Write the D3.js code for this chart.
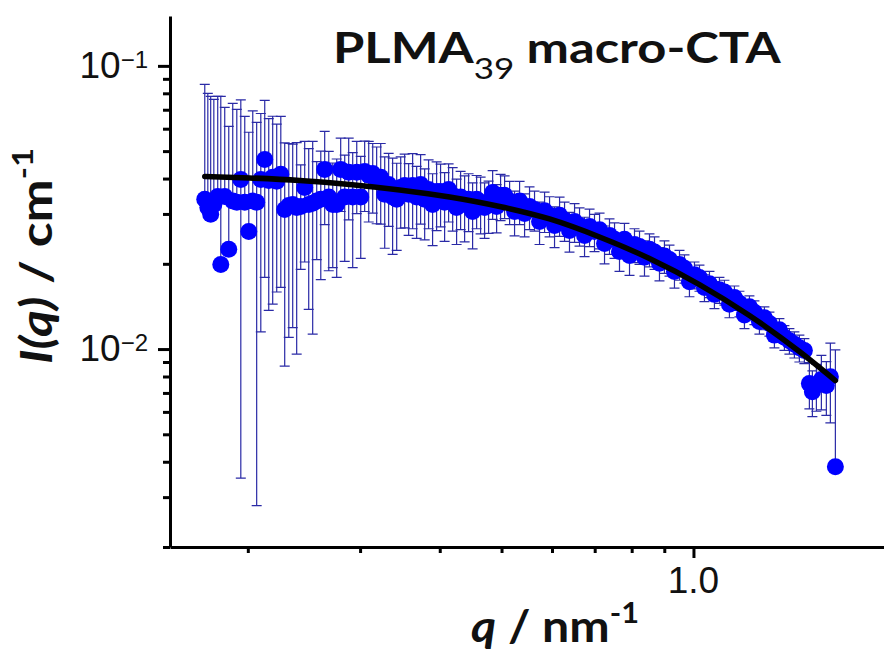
<!DOCTYPE html>
<html>
<head>
<meta charset="utf-8">
<script src="https://cdn.jsdelivr.net/npm/d3@7"></script>
<style>
  body { margin: 0; background: #fff; }
  svg { display: block; }
  .axis .domain, .axis line { stroke: #000; stroke-width: 3; }
</style>
</head>
<body>
<div id="wrapper"></div>
<script>
// SAXS data, PLMA39 macro-CTA (q in nm^-1, I in cm^-1)
const qValues = [
  0.1712, 0.1731, 0.1749, 0.1769, 0.1794, 0.1814, 0.1840, 0.1867, 0.1894, 0.1922,
  0.1950, 0.1978, 0.2007, 0.2036, 0.2065, 0.2096, 0.2126, 0.2157, 0.2188, 0.2220,
  0.2253, 0.2285, 0.2319, 0.2352, 0.2386, 0.2421, 0.2456, 0.2492, 0.2528, 0.2565,
  0.2603, 0.2640, 0.2679, 0.2718, 0.2757, 0.2797, 0.2838, 0.2879, 0.2921, 0.2964,
  0.3007, 0.3050, 0.3095, 0.3140, 0.3185, 0.3232, 0.3279, 0.3326, 0.3374, 0.3424,
  0.3474, 0.3524, 0.3575, 0.3627, 0.3680, 0.3733, 0.3788, 0.3842, 0.3898, 0.3955,
  0.4012, 0.4071, 0.4130, 0.4191, 0.4251, 0.4313, 0.4376, 0.4439, 0.4504, 0.4570,
  0.4636, 0.4703, 0.4772, 0.4842, 0.4912, 0.4983, 0.5056, 0.5148, 0.5241, 0.5337,
  0.5434, 0.5532, 0.5633, 0.5736, 0.5841, 0.5947, 0.6055, 0.6166, 0.6278, 0.6391,
  0.6509, 0.6627, 0.6748, 0.6871, 0.6995, 0.7124, 0.7253, 0.7384, 0.7520, 0.7656,
  0.7794, 0.7938, 0.8082, 0.8230, 0.8379, 0.8531, 0.8688, 0.8845, 0.9005, 0.9171,
  0.9337, 0.9508, 0.9681, 0.9856, 1.0036, 1.0219, 1.0405, 1.0595, 1.0787, 1.0983,
  1.1183, 1.1387, 1.1594, 1.1806, 1.2022, 1.2240, 1.2463, 1.2690, 1.2921, 1.3157,
  1.3396, 1.3640, 1.3888, 1.4141, 1.4398, 1.4660, 1.4927, 1.5199, 1.5364, 1.5588,
  1.5872, 1.6160, 1.6396, 1.6695
];

const intensity = [
  0.0338, 0.0316, 0.0299, 0.0324, 0.0346, 0.0199, 0.0346, 0.0225, 0.0333, 0.0330,
  0.0397, 0.0330, 0.0260, 0.0333, 0.0330, 0.0397, 0.0467, 0.0394, 0.0404, 0.0391,
  0.0414, 0.0311, 0.0321, 0.0324, 0.0316, 0.0319, 0.0372, 0.0324, 0.0327, 0.0333,
  0.0338, 0.0431, 0.0344, 0.0324, 0.0324, 0.0431, 0.0344, 0.0421, 0.0344, 0.0421,
  0.0344, 0.0424, 0.0411, 0.0417, 0.0397, 0.0404, 0.0352, 0.0381, 0.0344, 0.0338,
  0.0372, 0.0378, 0.0352, 0.0378, 0.0344, 0.0381, 0.0338, 0.0366, 0.0324, 0.0360,
  0.0360, 0.0330, 0.0366, 0.0349, 0.0316, 0.0344, 0.0324, 0.0338, 0.0306, 0.0338,
  0.0330, 0.0316, 0.0324, 0.0357, 0.0319, 0.0349, 0.0349, 0.0333, 0.0306, 0.0333,
  0.0301, 0.0319, 0.0311, 0.0282, 0.0308, 0.0297, 0.0273, 0.0297, 0.0285, 0.0262,
  0.0282, 0.0273, 0.0252, 0.0271, 0.0260, 0.0264, 0.0236, 0.0252, 0.0244, 0.0221,
  0.0244, 0.0214, 0.0234, 0.0230, 0.0211, 0.0225, 0.0220, 0.0201, 0.0213, 0.0207,
  0.0188, 0.0199, 0.0193, 0.0173, 0.0183, 0.0179, 0.0165, 0.0170, 0.0156, 0.0162,
  0.0159, 0.0144, 0.0152, 0.0145, 0.0132, 0.0141, 0.0135, 0.0125, 0.0129, 0.0123,
  0.0112, 0.0117, 0.0110, 0.0107, 0.0104, 0.0101, 0.00988, 0.00755, 0.00707, 0.00743,
  0.00780, 0.00743, 0.00799, 0.00384
];

const errors = [
  0.0522, 0.0483, 0.0481, 0.0437, 0.0434, 0.0581, 0.0367, 0.0386, 0.0404, 0.0372,
  0.0362, 0.0333, 0.0323, 0.0360, 0.0302, 0.0282, 0.0288, 0.0257, 0.0260, 0.0232,
  0.0249, 0.0224, 0.0211, 0.0205, 0.0220, 0.0128, 0.0169, 0.0186, 0.0214, 0.0126,
  0.0162, 0.0156, 0.0155, 0.0130, 0.0145, 0.0125, 0.0140, 0.0135, 0.0150, 0.0120,
  0.0135, 0.0118, 0.0130, 0.0115, 0.0120, 0.0128, 0.0125, 0.0110, 0.0128, 0.0115,
  0.0105, 0.0110, 0.0100, 0.0112, 0.0098, 0.0105, 0.0095, 0.0100, 0.0092, 0.0098,
  0.0090, 0.0090, 0.0085, 0.0088, 0.0082, 0.0080, 0.0085, 0.0078, 0.0080, 0.0072,
  0.0075, 0.0070, 0.0068, 0.0070, 0.0062, 0.0065, 0.0060, 0.0058, 0.0055, 0.0058,
  0.0052, 0.0055, 0.0050, 0.0048, 0.0050, 0.0048, 0.0045, 0.0047, 0.0045, 0.0042,
  0.0044, 0.0042, 0.0040, 0.0041, 0.0039, 0.0038, 0.0036, 0.0036, 0.0035, 0.0033,
  0.0034, 0.0032, 0.0032, 0.0031, 0.0030, 0.0030, 0.0029, 0.0027, 0.0028, 0.0026,
  0.0024, 0.0024, 0.0022, 0.0020, 0.0020, 0.0019, 0.0018, 0.0018, 0.0017, 0.0017,
  0.0016, 0.0015, 0.0015, 0.0015, 0.0014, 0.0013, 0.0013, 0.0012, 0.0012, 0.0012,
  0.0011, 0.0011, 0.0011, 0.0011, 0.0011, 0.0011, 0.0010, 0.0014, 0.0013, 0.0014,
  0.0017, 0.0016, 0.0025, 0.0061
];

// model fit
const fitQ = [0.1712, 0.2014, 0.2412, 0.2889, 0.3461, 0.4146, 0.4966, 0.5946,
              0.7124, 0.8531, 1.0219, 1.2240, 1.4660, 1.6695];
const fitI = [0.04070, 0.04020, 0.03939, 0.03813, 0.03646, 0.03445, 0.03188, 0.02880,
              0.02488, 0.02089, 0.01690, 0.01314, 0.00980, 0.00774];

const yTickValues = [0.1, 0.01];
const yTickExponents = ["\u22121", "\u22122"];
const xTickValues = [1.0];
const xTickLabels = ["1.0"];

const data = qValues.map((q, i) => ({ q, I: intensity[i], err: errors[i] }));
const fit = fitQ.map((q, i) => ({ q, I: fitI[i] }));

const width = 884, height = 652;

const svg = d3.select("#wrapper")
  .append("svg")
  .attr("width", width)
  .attr("height", height);

const x = d3.scaleLog().domain([0.151, 1.99]).range([170, 884]);
const y = d3.scaleLog().domain([0.002, 0.15]).range([547, 16]);

const isMajor = (t, majors) => majors.some(m => Math.abs(t / m - 1) < 1e-6);
const xMinor = x.ticks().filter(t => !isMajor(t, xTickValues));
const yMinor = y.ticks().filter(t => !isMajor(t, yTickValues));

svg.append("defs").append("clipPath").attr("id", "plot")
  .append("rect").attr("x", 170).attr("y", 16).attr("width", 714).attr("height", 531);

// error bars
const bars = svg.append("g")
  .attr("clip-path", "url(#plot)")
  .attr("stroke", "#2a2aa6")
  .attr("stroke-width", 1.2)
  .attr("fill", "none");

bars.selectAll("path")
  .data(data)
  .join("path")
  .attr("d", d => {
    const cx = x(d.q), cy = y(d.I), top = y(d.I + d.err);
    let p = `M${cx},${cy}V${top}M${cx - 5},${top}H${cx + 5}`;
    if (d.I - d.err > 0) {
      const bot = y(d.I - d.err);
      p += `M${cx},${cy}V${bot}M${cx - 5},${bot}H${cx + 5}`;
    }
    return p;
  });

// points
svg.append("g")
  .selectAll("circle")
  .data(data)
  .join("circle")
  .attr("cx", d => x(d.q))
  .attr("cy", d => y(d.I))
  .attr("r", 8.5)
  .attr("fill", "#0000ff");

// fit line
const line = d3.line()
  .x(d => x(d.q))
  .y(d => y(d.I))
  .curve(d3.curveMonotoneX);

svg.append("path")
  .datum(fit)
  .attr("d", line)
  .attr("fill", "none")
  .attr("stroke", "#000")
  .attr("stroke-width", 5.5)
  .attr("stroke-linecap", "round");

// axes
svg.append("g")
  .attr("class", "axis")
  .attr("transform", "translate(0,547)")
  .call(d3.axisBottom(x).tickValues(xMinor).tickSize(6).tickSizeOuter(0).tickFormat(""))
  .call(g => g.selectAll("line").attr("stroke-width", 2.5));

svg.append("g")
  .attr("class", "axis")
  .attr("transform", "translate(0,547)")
  .call(d3.axisBottom(x).tickValues(xTickValues).tickSize(11).tickSizeOuter(0).tickFormat(""))
  .call(g => g.select(".domain").remove());

svg.append("g")
  .attr("class", "axis")
  .attr("transform", "translate(170,0)")
  .call(d3.axisLeft(y).tickValues(yMinor).tickSize(7).tickSizeOuter(0).tickFormat(""));

svg.append("g")
  .attr("class", "axis")
  .attr("transform", "translate(170,0)")
  .call(d3.axisLeft(y).tickValues(yTickValues).tickSize(12).tickSizeOuter(0).tickFormat(""))
  .call(g => g.select(".domain").remove());

// tick labels
const yLabels = svg.append("g")
  .selectAll("text")
  .data(yTickValues)
  .join("text")
  .attr("x", 148)
  .attr("y", d => y(d) + 12)
  .attr("text-anchor", "end")
  .style("font-family", "'Liberation Sans', Arial, sans-serif")
  .style("font-size", "37px")
  .attr("fill", "#111");
yLabels.append("tspan").text("10");
yLabels.append("tspan")
  .attr("dy", -10)
  .style("font-size", "24px")
  .text((d, i) => yTickExponents[i]);

svg.append("g")
  .selectAll("text")
  .data(xTickValues)
  .join("text")
  .attr("x", d => x(d))
  .attr("y", 593)
  .attr("text-anchor", "middle")
  .style("font-family", "'Liberation Sans', Arial, sans-serif")
  .style("font-size", "37px")
  .attr("fill", "#111")
  .text((d, i) => xTickLabels[i]);

// stretch a text horizontally (in its own frame) to a target width
function fitWidth(sel, target, cx, base) {
  const w = sel.node().getBBox().width;
  const s = target / w;
  sel.attr("transform", `${base || ""} translate(${cx},0) scale(${s},1) translate(${-cx},0)`);
}

// title
const title = svg.append("text")
  .attr("x", 333)
  .attr("y", 63)
  .style("font-family", "Lato, 'Open Sans', sans-serif")
  .style("font-weight", "bold")
  .style("font-size", "42px")
  .attr("fill", "#111");
title.append("tspan").text("PLMA");
title.append("tspan").attr("dy", 16).style("font-size", "29px").style("font-weight", "normal").text("39");
title.append("tspan").attr("dy", -16).text(" macro-CTA");
fitWidth(title, 449, 333);

// axis titles
const xTitle = svg.append("text")
  .attr("x", 555)
  .attr("y", 642)
  .attr("text-anchor", "middle")
  .style("font-family", "Lato, 'Open Sans', sans-serif")
  .style("font-weight", "bold")
  .style("font-size", "44px")
  .attr("fill", "#111");
xTitle.append("tspan").style("font-style", "italic").text("q");
xTitle.append("tspan").text(" / nm");
xTitle.append("tspan").attr("dy", -19).style("font-size", "28px").text("-1");
fitWidth(xTitle, 168, 555);

const yTitle = svg.append("text")
  .attr("x", 0)
  .attr("y", 0)
  .attr("text-anchor", "middle")
  .style("font-family", "Lato, 'Open Sans', sans-serif")
  .style("font-weight", "bold")
  .style("font-size", "44px")
  .attr("fill", "#111");
yTitle.append("tspan").style("font-style", "italic").text("I(q)");
yTitle.append("tspan").text(" / cm");
yTitle.append("tspan").attr("dy", -19).style("font-size", "28px").text("-1");
fitWidth(yTitle, 216, 0, "translate(52,256) rotate(-90)");
</script>
</body>
</html>
